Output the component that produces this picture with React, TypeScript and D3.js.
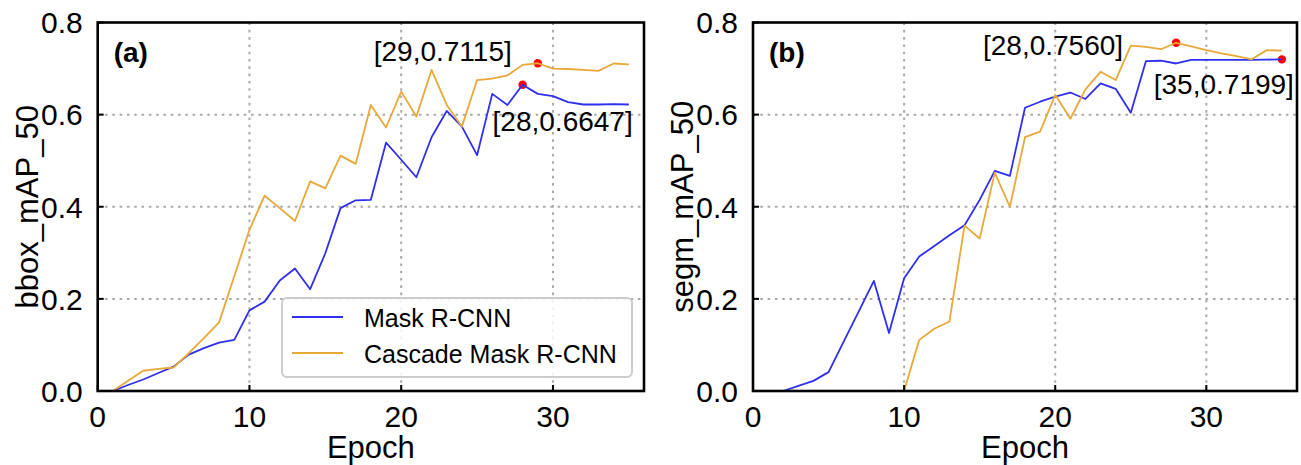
import React from "react";
import * as d3 from "d3";

// Training curves: mAP@50 per epoch for two detectors
const bboxEpochs = [1, 2, 3, 4, 5, 6, 7, 8, 9, 10, 11, 12, 13, 14, 15, 16, 17, 18, 19, 20, 21, 22, 23, 24, 25, 26, 27, 28, 29, 30, 31, 32, 33, 34, 35];
const bboxMask = [0.0, 0.013, 0.025, 0.039, 0.053, 0.079, 0.093, 0.105, 0.111, 0.175, 0.194, 0.24, 0.266, 0.221, 0.299, 0.397, 0.414, 0.415, 0.539, 0.502, 0.464, 0.551, 0.608, 0.574, 0.512, 0.645, 0.621, 0.6647, 0.645, 0.64, 0.627, 0.622, 0.622, 0.623, 0.622];
const bboxCascade = [0.0, 0.022, 0.044, 0.048, 0.051, 0.082, 0.115, 0.149, 0.249, 0.35, 0.424, 0.397, 0.369, 0.455, 0.44, 0.511, 0.493, 0.621, 0.572, 0.65, 0.596, 0.697, 0.621, 0.574, 0.675, 0.678, 0.685, 0.708, 0.7115, 0.7, 0.699, 0.697, 0.695, 0.711, 0.709];

const segmMaskEpochs = [2, 3, 4, 5, 6, 7, 8, 9, 10, 11, 12, 13, 14, 15, 16, 17, 18, 19, 20, 21, 22, 23, 24, 25, 26, 27, 28, 29, 30, 31, 32, 33, 34, 35];
const segmMask = [0.0, 0.011, 0.022, 0.041, 0.107, 0.173, 0.239, 0.126, 0.245, 0.292, 0.315, 0.338, 0.36, 0.415, 0.478, 0.467, 0.615, 0.628, 0.639, 0.648, 0.634, 0.668, 0.656, 0.604, 0.716, 0.717, 0.711, 0.719, 0.719, 0.719, 0.719, 0.719, 0.7195, 0.7199];
const segmCascadeEpochs = [10, 11, 12, 13, 14, 15, 16, 17, 18, 19, 20, 21, 22, 23, 24, 25, 26, 27, 28, 29, 30, 31, 32, 33, 34, 35];
const segmCascade = [0.0, 0.111, 0.135, 0.151, 0.359, 0.331, 0.474, 0.4, 0.551, 0.563, 0.643, 0.591, 0.655, 0.693, 0.675, 0.75, 0.747, 0.742, 0.756, 0.748, 0.74, 0.733, 0.727, 0.72, 0.74, 0.739];

const seriesNames = ["Mask R-CNN", "Cascade Mask R-CNN"];
const xTicks = [0, 10, 20, 30];
const yTicks = [0.0, 0.2, 0.4, 0.6, 0.8];
const gridX = [10, 20, 30];
const gridY = [0.2, 0.4, 0.6];

const BLUE = "#2f2ff0";
const ORANGE = "#e8a83a";
const FONT = "'Liberation Sans', Arial, Helvetica, sans-serif";

type Series = { epochs: number[]; values: number[]; color: string };
type Note = { epoch: number; value: number; text: string; dx: number; dy: number; anchor: "start" | "end" };

type PanelProps = {
  left: number;
  right: number;
  tag: string;
  yLabel: string;
  series: Series[];
  notes: Note[];
  legend: boolean;
};

const TOP = 22.5;
const BOTTOM = 391;

function Panel({ left, right, tag, yLabel, series, notes, legend }: PanelProps) {
  const x = d3.scaleLinear().domain([0, 36]).range([left, right]);
  const y = d3.scaleLinear().domain([0, 0.8]).range([BOTTOM, TOP]);
  const line = d3
    .line<[number, number]>()
    .x((d) => x(d[0]))
    .y((d) => y(d[1]));

  return (
    <g>
      {/* dotted grid */}
      {gridX.map((t) => (
        <line key={"gx" + t} x1={x(t)} x2={x(t)} y1={TOP} y2={BOTTOM} stroke="#aaaaaa" strokeWidth={2} strokeDasharray="2.6,4.7" />
      ))}
      {gridY.map((t) => (
        <line key={"gy" + t} x1={left} x2={right} y1={y(t)} y2={y(t)} stroke="#aaaaaa" strokeWidth={2} strokeDasharray="2.6,4.7" />
      ))}

      {/* highlighted points */}
      {notes.map((n, i) => (
        <circle key={"m" + i} cx={x(n.epoch)} cy={y(n.value)} r={4.2} fill="#ff0000" />
      ))}

      {/* curves */}
      {series.map((s, i) => (
        <path
          key={"s" + i}
          d={line(s.epochs.map((e, j) => [e, s.values[j]] as [number, number])) || ""}
          fill="none"
          stroke={s.color}
          strokeWidth={1.8}
          strokeLinejoin="round"
        />
      ))}

      {/* annotations */}
      {notes.map((n, i) => (
        <text
          key={"t" + i}
          x={x(n.epoch) + n.dx}
          y={y(n.value) + n.dy}
          textAnchor={n.anchor}
          fontSize={28}
          fontFamily={FONT}
          fill="#000"
        >
          {n.text}
        </text>
      ))}

      {/* legend */}
      {legend && (
        <g>
          <rect x={282} y={298} width={350} height={79} rx={5} fill="#ffffff" fillOpacity={0.82} stroke="#cccccc" strokeWidth={2} />
          {seriesNames.map((name, i) => (
            <g key={"lg" + i}>
              <line x1={292} x2={343} y1={317 + i * 36} y2={317 + i * 36} stroke={series[i].color} strokeWidth={1.8} />
              <text x={364} y={327 + i * 35.5} fontSize={25} fontFamily={FONT} fill="#000">
                {name}
              </text>
            </g>
          ))}
        </g>
      )}

      {/* ticks (inward) */}
      {xTicks.map((t) => (
        <line key={"xt" + t} x1={x(t)} x2={x(t)} y1={BOTTOM} y2={BOTTOM - 6} stroke="#000" strokeWidth={2} />
      ))}
      {yTicks.map((t) => (
        <line key={"yt" + t} x1={left} x2={left + 6} y1={y(t)} y2={y(t)} stroke="#000" strokeWidth={2} />
      ))}

      {/* frame */}
      <rect x={left} y={TOP} width={right - left} height={BOTTOM - TOP} fill="none" stroke="#000" strokeWidth={2.6} />

      {/* tick labels */}
      {xTicks.map((t) => (
        <text key={"xl" + t} x={x(t)} y={427} textAnchor="middle" fontSize={30} fontFamily={FONT} fill="#000">
          {d3.format("d")(t)}
        </text>
      ))}
      {yTicks.map((t) => (
        <text key={"yl" + t} x={left - 15} y={y(t) + 10.8} textAnchor="end" fontSize={30} fontFamily={FONT} fill="#000">
          {d3.format(".1f")(t)}
        </text>
      ))}

      {/* axis titles */}
      <text x={(left + right) / 2} y={458} textAnchor="middle" fontSize={31} fontFamily={FONT} fill="#000">
        Epoch
      </text>
      <text
        transform={`translate(${left - 60},${(TOP + BOTTOM) / 2}) rotate(-90)`}
        textAnchor="middle"
        fontSize={31}
        fontFamily={FONT}
        fill="#000"
      >
        {yLabel}
      </text>

      {/* panel tag */}
      <text x={left + 16} y={62} fontSize={28} fontWeight="bold" fontFamily={FONT} fill="#000">
        {tag}
      </text>
    </g>
  );
}

export default function App() {
  const idx = (arr: number[], e: number) => arr.indexOf(e);
  return (
    <svg width={1301} height={465} style={{ position: "absolute", left: 0, top: 0, background: "#fff" }}>
      <rect x={0} y={0} width={1301} height={465} fill="#fff" />
      <Panel
        left={97.7}
        right={644}
        tag="(a)"
        yLabel="bbox_mAP_50"
        legend={true}
        series={[
          { epochs: bboxEpochs, values: bboxMask, color: BLUE },
          { epochs: bboxEpochs, values: bboxCascade, color: ORANGE },
        ]}
        notes={[
          { epoch: 29, value: bboxCascade[idx(bboxEpochs, 29)], text: "[29,0.7115]", dx: -26, dy: -2, anchor: "end" },
          { epoch: 28, value: bboxMask[idx(bboxEpochs, 28)], text: "[28,0.6647]", dx: -30, dy: 46, anchor: "start" },
        ]}
      />
      <Panel
        left={753}
        right={1297}
        tag="(b)"
        yLabel="segm_mAP_50"
        legend={false}
        series={[
          { epochs: segmMaskEpochs, values: segmMask, color: BLUE },
          { epochs: segmCascadeEpochs, values: segmCascade, color: ORANGE },
        ]}
        notes={[
          { epoch: 28, value: segmCascade[idx(segmCascadeEpochs, 28)], text: "[28,0.7560]", dx: -53, dy: 12.6, anchor: "end" },
          { epoch: 35, value: segmMask[idx(segmMaskEpochs, 35)], text: "[35,0.7199]", dx: 12, dy: 35, anchor: "end" },
        ]}
      />
    </svg>
  );
}
